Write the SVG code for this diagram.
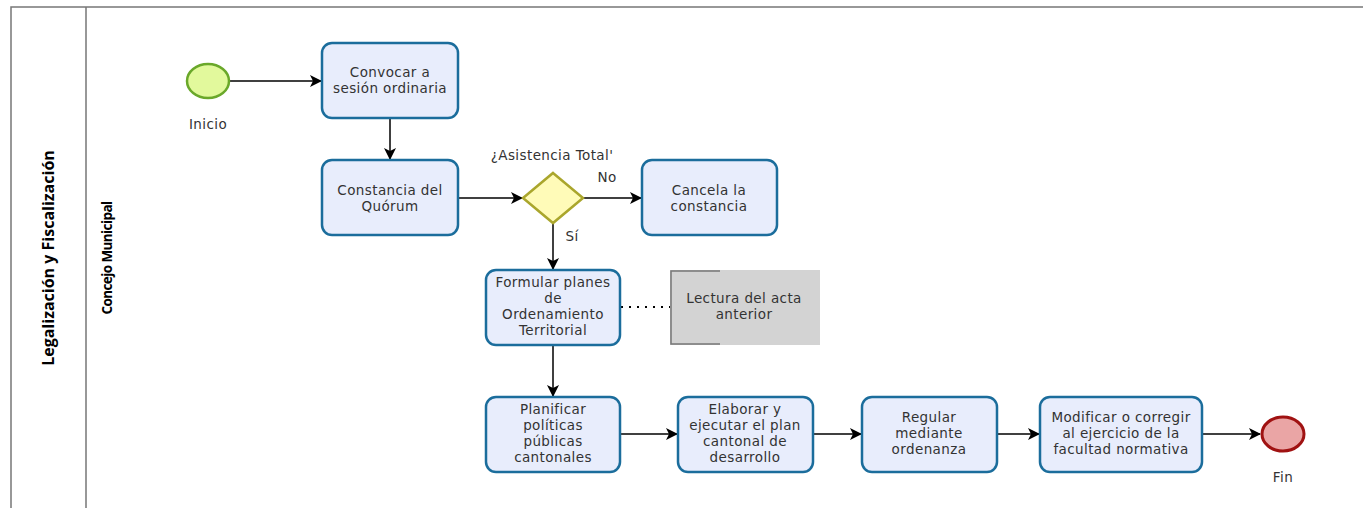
<svg xmlns="http://www.w3.org/2000/svg" width="1363" height="508" viewBox="0 0 1363 508">
<defs>
<marker id="arr" viewBox="0 0 12 12" refX="11" refY="6" markerWidth="12" markerHeight="12" markerUnits="userSpaceOnUse" orient="auto">
<path d="M0,0 L12,6 L0,12 L3,6 z" fill="#000"/>
</marker>
<style>
.task{fill:#e8edfc;stroke:#1b6d9c;stroke-width:2.5}
.t{font-family:"DejaVu Sans","Open Sans",sans-serif;font-size:13.5px;letter-spacing:0.4px;fill:#333;text-anchor:middle}
.edge{stroke:#000;stroke-width:1.5;fill:none;marker-end:url(#arr)}
.pool{stroke:#777;stroke-width:1.5;fill:none}
</style>
</defs>
<rect width="1363" height="508" fill="#fff"/>
<g id="pool">
<path class="pool" d="M11,508 V7 H1363 M86,7 V508"/>
<text x="54" y="258" transform="rotate(-90 54 258)" style="font-family:'Open Sans','Noto Sans',sans-serif;font-size:16px;font-weight:bold;fill:#000;text-anchor:middle">Legalización y Fiscalización</text>
<text x="112" y="258" transform="rotate(-90 112 258)" style="font-family:'Open Sans','Noto Sans',sans-serif;font-size:13.5px;font-weight:bold;fill:#000;text-anchor:middle;letter-spacing:-0.6px">Concejo Municipal</text>
</g>
<g id="connectors">
<line class="edge" x1="230" y1="81" x2="321" y2="81"/>
<line class="edge" x1="390" y1="118" x2="390" y2="159"/>
<line class="edge" x1="458" y1="198" x2="522" y2="198"/>
<line class="edge" x1="583" y1="198" x2="641" y2="198"/>
<line class="edge" x1="553" y1="223" x2="553" y2="269"/>
<line class="edge" x1="553" y1="345" x2="553" y2="396"/>
<line class="edge" x1="620" y1="434" x2="677" y2="434"/>
<line class="edge" x1="813" y1="434" x2="861" y2="434"/>
<line class="edge" x1="997" y1="434" x2="1039" y2="434"/>
<line class="edge" x1="1202" y1="434" x2="1260" y2="434"/>
<line x1="621" y1="307" x2="670" y2="307" stroke="#000" stroke-width="2" stroke-dasharray="2,6"/>
<text class="t" x="607" y="182">No</text>
<text class="t" x="572" y="241">Sí</text>
</g>
<g id="start">
<ellipse cx="208" cy="81" rx="21" ry="17" fill="#e2f99c" stroke="#6aa82a" stroke-width="2.5"/>
<text class="t" x="208" y="129">Inicio</text>
</g>
<g id="convocar">
<rect class="task" x="322" y="43" width="136" height="75" rx="10"/>
<text class="t" x="390" y="77">Convocar a</text>
<text class="t" x="390" y="93">sesión ordinaria</text>
</g>
<g id="constancia">
<rect class="task" x="322" y="160" width="136" height="75" rx="10"/>
<text class="t" x="390" y="195">Constancia del</text>
<text class="t" x="390" y="211">Quórum</text>
</g>
<g id="gateway">
<polygon points="553,173 583,198 553,223 523,198" fill="#fffbb8" stroke="#aaa62c" stroke-width="2.5"/>
<text class="t" x="552" y="160">¿Asistencia Total'</text>
</g>
<g id="cancela">
<rect class="task" x="642" y="160" width="135" height="75" rx="10"/>
<text class="t" x="709" y="195">Cancela la</text>
<text class="t" x="709" y="211">constancia</text>
</g>
<g id="formular">
<rect class="task" x="486" y="270" width="134" height="75" rx="10"/>
<text class="t" x="553" y="287">Formular planes</text>
<text class="t" x="553" y="303">de</text>
<text class="t" x="553" y="319">Ordenamiento</text>
<text class="t" x="553" y="335">Territorial</text>
</g>
<g id="annotation">
<rect x="670" y="270" width="150" height="75" fill="#d3d3d3"/>
<path d="M720,271 H671 V344 H720" fill="none" stroke="#777" stroke-width="1.5"/>
<text class="t" x="744" y="303">Lectura del acta</text>
<text class="t" x="744" y="319">anterior</text>
</g>
<g id="planificar">
<rect class="task" x="486" y="397" width="134" height="75" rx="10"/>
<text class="t" x="553" y="414">Planificar</text>
<text class="t" x="553" y="430">políticas</text>
<text class="t" x="553" y="446">públicas</text>
<text class="t" x="553" y="462">cantonales</text>
</g>
<g id="elaborar">
<rect class="task" x="678" y="397" width="135" height="75" rx="10"/>
<text class="t" x="745" y="414">Elaborar y</text>
<text class="t" x="745" y="430">ejecutar el plan</text>
<text class="t" x="745" y="446">cantonal de</text>
<text class="t" x="745" y="462">desarrollo</text>
</g>
<g id="regular">
<rect class="task" x="862" y="397" width="135" height="75" rx="10"/>
<text class="t" x="929" y="422">Regular</text>
<text class="t" x="929" y="438">mediante</text>
<text class="t" x="929" y="454">ordenanza</text>
</g>
<g id="modificar">
<rect class="task" x="1040" y="397" width="162" height="75" rx="10"/>
<text class="t" x="1121" y="422">Modificar o corregir</text>
<text class="t" x="1121" y="438">al ejercicio de la</text>
<text class="t" x="1121" y="454">facultad normativa</text>
</g>
<g id="end">
<ellipse cx="1283" cy="434" rx="21" ry="17" fill="#eaa5a5" stroke="#a01212" stroke-width="3"/>
<text class="t" x="1283" y="482">Fin</text>
</g>
</svg>
